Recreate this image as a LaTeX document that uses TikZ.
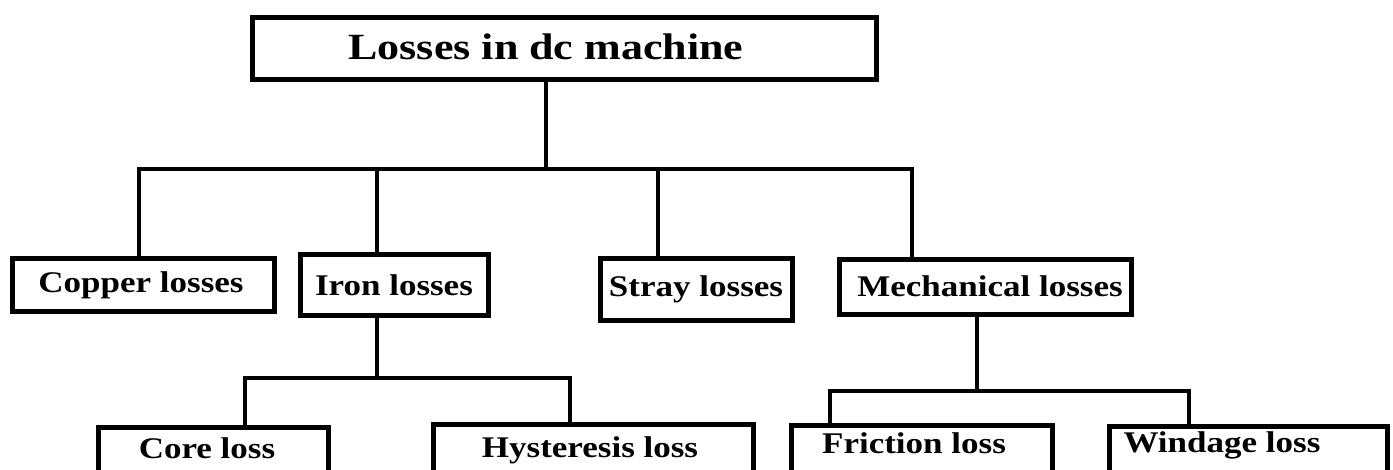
\documentclass[tikz,border=0pt]{standalone}
\usepackage{fontspec}
\setmainfont{Liberation Serif}
\begin{document}
\begin{tikzpicture}[x=1pt,y=-1pt,
  box/.style={draw=black,line width=5pt,inner sep=0pt,fill=white},
  wire/.style={draw=black,line width=4.5pt,line cap=rect},
  ttl/.style={anchor=base,inner sep=0pt,font=\fontsize{37}{40}\selectfont\bfseries},
  lbl/.style={anchor=base,inner sep=0pt,font=\fontsize{30}{33}\selectfont\bfseries}]
\useasboundingbox (0,0) rectangle (1393,470);
\fill[white] (0,0) rectangle (1393,470);
% boxes (outer edges minus line width)
\node[box,minimum width=624,minimum height=62] (top) at (564.5,48.5) {};
\node[box,minimum width=262,minimum height=53] (cop) at (143.5,285) {};
\node[box,minimum width=188,minimum height=61] (iron) at (394.5,285) {};
\node[box,minimum width=192,minimum height=62] (stray) at (696.5,289.5) {};
\node[box,minimum width=292,minimum height=55] (mech) at (985.5,287) {};
\node[box,minimum width=230,minimum height=70] (core) at (213.5,462.5) {};
\node[box,minimum width=320,minimum height=73] (hyst) at (593.5,461) {};
\node[box,minimum width=261,minimum height=72] (fric) at (922,461.5) {};
\node[box,minimum width=278,minimum height=71] (wind) at (1248.5,462) {};
% texts
\node[ttl] (ttop) at (546,60) {\scalebox{1.19}[1]{Losses in dc machine}};
\node[lbl] (tcop) at (141,293) {\scalebox{1.167}[1]{Copper losses}};
\node[lbl] (tiron) at (394,296) {\scalebox{1.167}[1]{Iron losses}};
\node[lbl] (tstray) at (696,297) {\scalebox{1.167}[1]{Stray losses}};
\node[lbl] (tmech) at (990,297) {\scalebox{1.167}[1]{Mechanical losses}};
\node[lbl] (tcore) at (207,458) {\scalebox{1.167}[1]{Core loss}};
\node[lbl] (thyst) at (590,457) {\scalebox{1.167}[1]{Hysteresis loss}};
\node[lbl] (tfric) at (914,453) {\scalebox{1.167}[1]{Friction loss}};
\node[lbl] (twind) at (1222,452) {\scalebox{1.167}[1]{Windage loss}};
% junction coordinates
\coordinate (m0) at (546,169);
\coordinate (b1) at (139,169);
\coordinate (b2) at (377,169);
\coordinate (b3) at (658,169);
\coordinate (b4) at (912,169);
\coordinate (i0) at (377,378);
\coordinate (i1) at (245,378);
\coordinate (i2) at (570,378);
\coordinate (k0) at (977,391);
\coordinate (k1) at (830,391);
\coordinate (k2) at (1189,391);
% connectors
\draw[wire] (m0 |- top.south) -- (m0);
\draw[wire] (b1) -- (b4);
\draw[wire] (b1) -- (b1 |- cop.north);
\draw[wire] (b2) -- (b2 |- iron.north);
\draw[wire] (b3) -- (b3 |- stray.north);
\draw[wire] (b4) -- (b4 |- mech.north);
\draw[wire] (i0 |- iron.south) -- (i0);
\draw[wire] (i1) -- (i2);
\draw[wire] (i1) -- (i1 |- core.north);
\draw[wire] (i2) -- (i2 |- hyst.north);
\draw[wire] (k0 |- mech.south) -- (k0);
\draw[wire] (k1) -- (k2);
\draw[wire] (k1) -- (k1 |- fric.north);
\draw[wire] (k2) -- (k2 |- wind.north);
\end{tikzpicture}
\end{document}
